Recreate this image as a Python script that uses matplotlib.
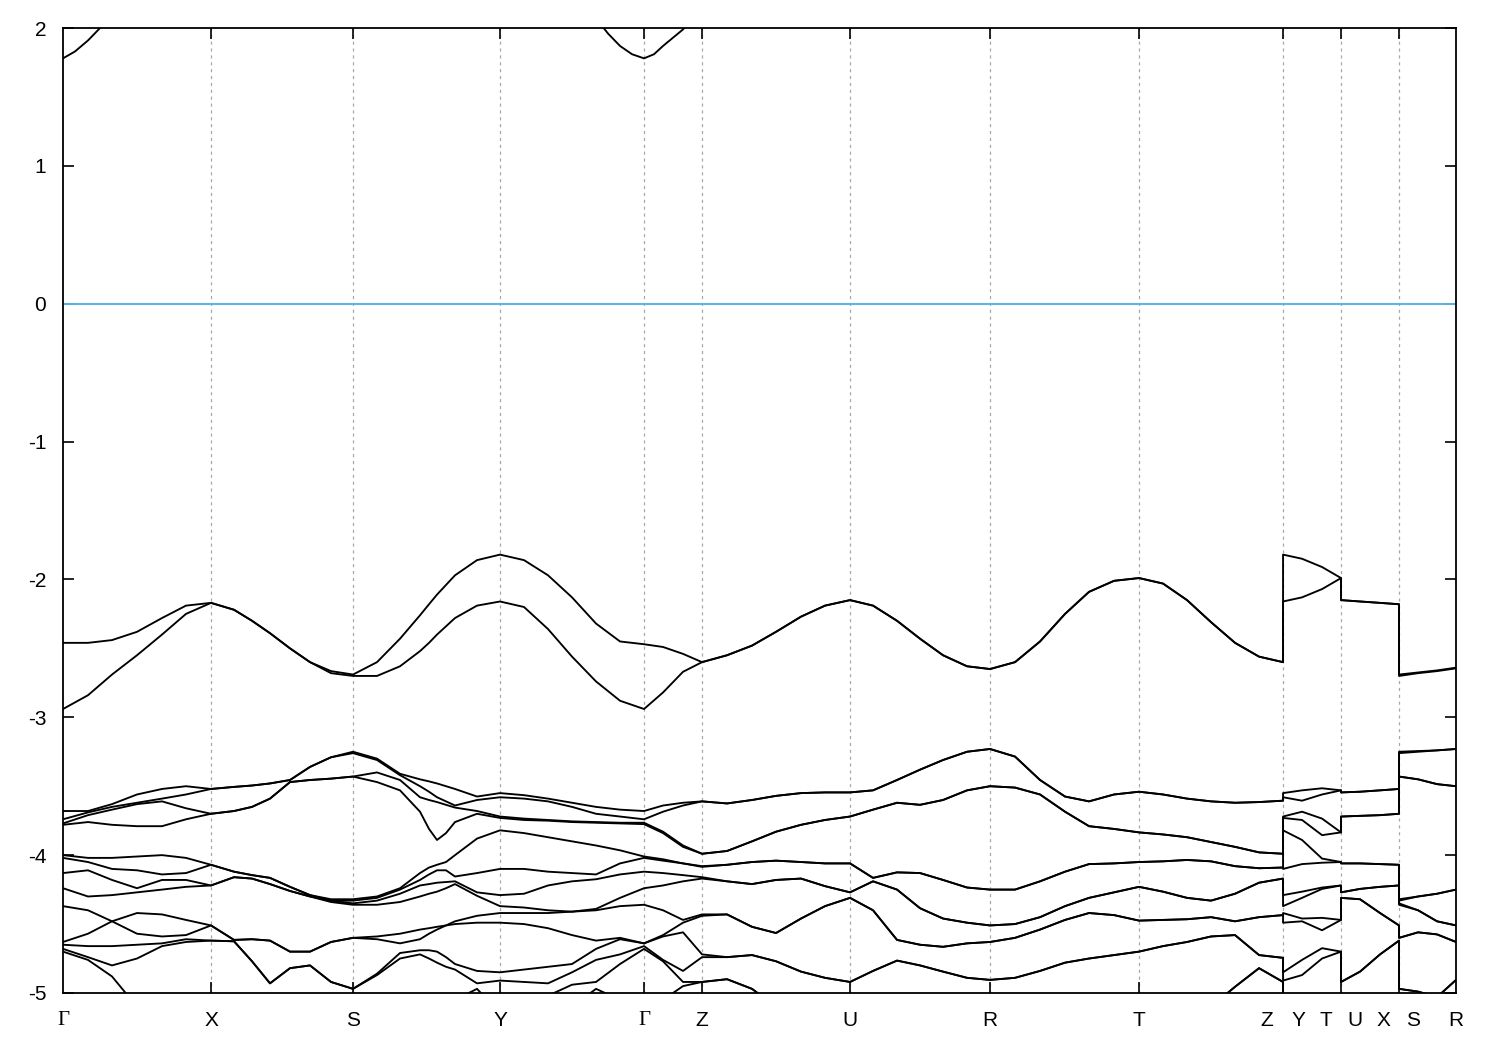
import numpy as np
import matplotlib
matplotlib.use("Agg")
import matplotlib.pyplot as plt

# k-path distance (arbitrary units) of the sample points, per segment
# rows: energies (eV) of the 16 valence bands, sorted from the top
k_gx = [0, 25, 49, 74, 99, 123, 148]
e_gx = [
    [-2.46, -2.94, -3.68, -3.74, -3.77, -3.78, -4.00, -4.02, -4.13, -4.24, -4.37, -4.63, -4.65, -4.68, -4.70, -5.3],
    [-2.46, -2.84, -3.68, -3.69, -3.71, -3.76, -4.02, -4.05, -4.11, -4.30, -4.40, -4.57, -4.66, -4.74, -4.76, -5.3],
    [-2.44, -2.69, -3.63, -3.65, -3.67, -3.78, -4.02, -4.10, -4.18, -4.29, -4.48, -4.48, -4.66, -4.80, -4.88, -5.3],
    [-2.38, -2.55, -3.56, -3.62, -3.63, -3.79, -4.01, -4.11, -4.24, -4.27, -4.42, -4.57, -4.65, -4.75, -5.1, -5.3],
    [-2.28, -2.40, -3.52, -3.59, -3.61, -3.79, -4.00, -4.14, -4.18, -4.25, -4.43, -4.59, -4.64, -4.66, -5.3, -5.3],
    [-2.19, -2.25, -3.50, -3.56, -3.66, -3.74, -4.02, -4.13, -4.18, -4.23, -4.47, -4.58, -4.61, -4.63, -5.3, -5.3],
    [-2.17, -2.17, -3.52, -3.52, -3.70, -3.70, -4.07, -4.07, -4.22, -4.22, -4.51, -4.51, -4.62, -4.62, -5.3, -5.3],
]

k_xs = [148, 171, 189, 207, 227, 247, 268, 290]
e_xs = [
    [-2.17, -2.17, -3.52, -3.52, -3.70, -3.70, -4.07, -4.07, -4.22, -4.22, -4.51, -4.51, -4.62, -4.62, -5.3, -5.3],
    [-2.22, -2.22, -3.505, -3.505, -3.68, -3.68, -4.12, -4.12, -4.16, -4.16, -4.615, -4.615, -4.625, -4.625, -5.3, -5.3],
    [-2.30, -2.30, -3.495, -3.495, -3.65, -3.65, -4.145, -4.145, -4.17, -4.17, -4.61, -4.61, -4.77, -4.77, -5.3, -5.3],
    [-2.39, -2.39, -3.48, -3.48, -3.59, -3.59, -4.165, -4.165, -4.21, -4.21, -4.62, -4.62, -4.93, -4.93, -5.3, -5.3],
    [-2.50, -2.50, -3.455, -3.455, -3.47, -3.47, -4.23, -4.23, -4.26, -4.26, -4.70, -4.70, -4.82, -4.82, -5.3, -5.3],
    [-2.60, -2.60, -3.36, -3.36, -3.455, -3.455, -4.29, -4.29, -4.30, -4.30, -4.70, -4.70, -4.80, -4.80, -5.3, -5.3],
    [-2.665, -2.68, -3.29, -3.29, -3.445, -3.445, -4.32, -4.33, -4.33, -4.34, -4.63, -4.63, -4.92, -4.92, -5.3, -5.3],
    [-2.69, -2.70, -3.25, -3.26, -3.43, -3.43, -4.32, -4.33, -4.35, -4.36, -4.60, -4.60, -4.97, -4.97, -5.3, -5.3],
]

k_sy = [290, 314, 337, 357, 366, 374, 383, 392, 414, 437]
e_sy = [
    [-2.69, -2.70, -3.25, -3.26, -3.43, -3.43, -4.32, -4.33, -4.35, -4.36, -4.60, -4.60, -4.97, -4.97, -5.3, -5.3],
    [-2.60, -2.70, -3.30, -3.31, -3.40, -3.47, -4.30, -4.31, -4.33, -4.36, -4.59, -4.61, -4.86, -4.87, -5.3, -5.3],
    [-2.43, -2.63, -3.41, -3.42, -3.455, -3.53, -4.24, -4.25, -4.28, -4.34, -4.57, -4.64, -4.71, -4.75, -5.3, -5.3],
    [-2.26, -2.52, -3.45, -3.50, -3.58, -3.685, -4.13, -4.18, -4.22, -4.30, -4.54, -4.61, -4.69, -4.72, -5.3, -5.3],
    [-2.18, -2.46, -3.465, -3.54, -3.60, -3.81, -4.09, -4.14, -4.21, -4.28, -4.53, -4.57, -4.69, -4.75, -5.3, -5.3],
    [-2.11, -2.40, -3.48, -3.58, -3.615, -3.89, -4.07, -4.11, -4.20, -4.265, -4.52, -4.54, -4.70, -4.78, -5.2, -5.3],
    [-2.04, -2.34, -3.50, -3.61, -3.635, -3.84, -4.05, -4.11, -4.195, -4.24, -4.51, -4.51, -4.74, -4.81, -5.1, -5.3],
    [-1.97, -2.28, -3.52, -3.64, -3.655, -3.76, -4.00, -4.155, -4.19, -4.21, -4.48, -4.50, -4.79, -4.83, -5.05, -5.3],
    [-1.86, -2.19, -3.575, -3.60, -3.68, -3.70, -3.88, -4.13, -4.27, -4.295, -4.44, -4.49, -4.84, -4.93, -4.97, -5.3],
    [-1.82, -2.16, -3.55, -3.58, -3.72, -3.73, -3.82, -4.10, -4.29, -4.37, -4.42, -4.49, -4.85, -4.91, -5.15, -5.3],
]

k_yg = [437, 461, 485, 509, 533, 557, 581]
e_yg = [
    [-1.82, -2.16, -3.55, -3.58, -3.72, -3.73, -3.82, -4.10, -4.29, -4.37, -4.42, -4.49, -4.85, -4.91, -5.15, -5.3],
    [-1.86, -2.20, -3.565, -3.59, -3.735, -3.745, -3.84, -4.10, -4.28, -4.38, -4.42, -4.50, -4.83, -4.92, -5.2, -5.3],
    [-1.97, -2.36, -3.59, -3.61, -3.745, -3.75, -3.87, -4.12, -4.22, -4.40, -4.42, -4.53, -4.81, -4.93, -5.02, -5.3],
    [-2.13, -2.56, -3.62, -3.65, -3.755, -3.76, -3.90, -4.13, -4.19, -4.41, -4.41, -4.58, -4.79, -4.85, -4.94, -5.1],
    [-2.32, -2.74, -3.65, -3.70, -3.76, -3.765, -3.93, -4.14, -4.175, -4.39, -4.40, -4.62, -4.68, -4.76, -4.92, -4.97],
    [-2.45, -2.88, -3.67, -3.72, -3.765, -3.77, -3.965, -4.06, -4.14, -4.31, -4.37, -4.60, -4.61, -4.72, -4.79, -5.05],
    [-2.47, -2.94, -3.68, -3.74, -3.765, -3.775, -4.01, -4.02, -4.12, -4.24, -4.36, -4.64, -4.64, -4.66, -4.68, -5.2],
]

k_gz = [581, 600, 620, 639]
e_gz = [
    [-2.47, -2.94, -3.68, -3.74, -3.765, -3.775, -4.01, -4.02, -4.12, -4.24, -4.36, -4.64, -4.64, -4.66, -4.68, -5.2],
    [-2.49, -2.82, -3.64, -3.685, -3.83, -3.84, -4.03, -4.04, -4.13, -4.22, -4.40, -4.58, -4.59, -4.76, -4.77, -5.05],
    [-2.54, -2.67, -3.62, -3.64, -3.93, -3.94, -4.06, -4.06, -4.145, -4.19, -4.47, -4.49, -4.56, -4.84, -4.92, -4.95],
    [-2.60, -2.60, -3.61, -3.61, -3.99, -3.99, -4.08, -4.085, -4.16, -4.17, -4.43, -4.44, -4.72, -4.74, -4.92, -4.92],
]

k_zu = [639, 664, 689, 713, 738, 762, 787]
e_zu = [
    [-2.60, -2.60, -3.61, -3.61, -3.99, -3.99, -4.08, -4.085, -4.16, -4.17, -4.43, -4.44, -4.72, -4.74, -4.92, -4.92],
    [-2.55, -2.55, -3.625, -3.625, -3.97, -3.97, -4.07, -4.07, -4.19, -4.19, -4.43, -4.43, -4.74, -4.74, -4.90, -4.90],
    [-2.48, -2.48, -3.60, -3.60, -3.90, -3.90, -4.05, -4.05, -4.21, -4.21, -4.52, -4.52, -4.725, -4.725, -4.97, -4.97],
    [-2.38, -2.38, -3.57, -3.57, -3.83, -3.83, -4.04, -4.04, -4.18, -4.18, -4.565, -4.565, -4.77, -4.77, -5.1, -5.1],
    [-2.27, -2.27, -3.55, -3.55, -3.78, -3.78, -4.05, -4.05, -4.17, -4.17, -4.46, -4.46, -4.845, -4.845, -5.2, -5.2],
    [-2.19, -2.19, -3.545, -3.545, -3.745, -3.745, -4.06, -4.06, -4.225, -4.225, -4.37, -4.37, -4.89, -4.89, -5.3, -5.3],
    [-2.15, -2.15, -3.545, -3.545, -3.72, -3.72, -4.06, -4.06, -4.27, -4.27, -4.31, -4.31, -4.92, -4.92, -5.3, -5.3],
]

k_ur = [787, 810, 834, 857, 880, 904, 927]
e_ur = [
    [-2.15, -2.15, -3.545, -3.545, -3.72, -3.72, -4.06, -4.06, -4.27, -4.27, -4.31, -4.31, -4.92, -4.92, -5.3, -5.3],
    [-2.19, -2.19, -3.53, -3.53, -3.67, -3.67, -4.165, -4.165, -4.19, -4.19, -4.40, -4.40, -4.84, -4.84, -5.3, -5.3],
    [-2.30, -2.30, -3.455, -3.455, -3.62, -3.62, -4.125, -4.125, -4.25, -4.25, -4.615, -4.615, -4.765, -4.765, -5.3, -5.3],
    [-2.43, -2.43, -3.38, -3.38, -3.635, -3.635, -4.13, -4.13, -4.385, -4.385, -4.65, -4.65, -4.80, -4.80, -5.3, -5.3],
    [-2.55, -2.55, -3.31, -3.31, -3.60, -3.60, -4.18, -4.18, -4.46, -4.46, -4.665, -4.665, -4.845, -4.845, -5.3, -5.3],
    [-2.63, -2.63, -3.25, -3.25, -3.53, -3.53, -4.235, -4.235, -4.49, -4.49, -4.64, -4.64, -4.89, -4.89, -5.3, -5.3],
    [-2.65, -2.65, -3.23, -3.23, -3.50, -3.50, -4.25, -4.25, -4.51, -4.51, -4.63, -4.63, -4.905, -4.905, -5.3, -5.3],
]

k_rt = [927, 952, 977, 1002, 1026, 1051, 1076]
e_rt = [
    [-2.65, -2.65, -3.23, -3.23, -3.50, -3.50, -4.25, -4.25, -4.51, -4.51, -4.63, -4.63, -4.905, -4.905, -5.3, -5.3],
    [-2.60, -2.60, -3.285, -3.285, -3.51, -3.51, -4.25, -4.25, -4.50, -4.50, -4.60, -4.60, -4.89, -4.89, -5.3, -5.3],
    [-2.45, -2.45, -3.455, -3.455, -3.56, -3.56, -4.19, -4.19, -4.45, -4.45, -4.54, -4.54, -4.84, -4.84, -5.3, -5.3],
    [-2.25, -2.25, -3.575, -3.575, -3.685, -3.685, -4.12, -4.12, -4.37, -4.37, -4.47, -4.47, -4.78, -4.78, -5.3, -5.3],
    [-2.09, -2.09, -3.61, -3.61, -3.79, -3.79, -4.065, -4.065, -4.31, -4.31, -4.42, -4.42, -4.75, -4.75, -5.3, -5.3],
    [-2.01, -2.01, -3.56, -3.56, -3.81, -3.81, -4.06, -4.06, -4.27, -4.27, -4.435, -4.435, -4.725, -4.725, -5.3, -5.3],
    [-1.99, -1.99, -3.54, -3.54, -3.835, -3.835, -4.05, -4.05, -4.23, -4.23, -4.475, -4.475, -4.70, -4.70, -5.3, -5.3],
]

k_tz = [1076, 1100, 1124, 1148, 1172, 1196, 1220]
e_tz = [
    [-1.99, -1.99, -3.54, -3.54, -3.835, -3.835, -4.05, -4.05, -4.23, -4.23, -4.475, -4.475, -4.70, -4.70, -5.3, -5.3],
    [-2.03, -2.03, -3.56, -3.56, -3.85, -3.85, -4.045, -4.045, -4.265, -4.265, -4.47, -4.47, -4.66, -4.66, -5.3, -5.3],
    [-2.15, -2.15, -3.59, -3.59, -3.87, -3.87, -4.035, -4.035, -4.31, -4.31, -4.465, -4.465, -4.63, -4.63, -5.3, -5.3],
    [-2.31, -2.31, -3.61, -3.61, -3.905, -3.905, -4.045, -4.045, -4.33, -4.33, -4.45, -4.45, -4.59, -4.59, -5.1, -5.1],
    [-2.46, -2.46, -3.62, -3.62, -3.94, -3.94, -4.08, -4.08, -4.28, -4.28, -4.48, -4.48, -4.58, -4.58, -4.955, -4.955],
    [-2.56, -2.56, -3.615, -3.615, -3.98, -3.98, -4.095, -4.095, -4.20, -4.20, -4.45, -4.45, -4.725, -4.725, -4.82, -4.82],
    [-2.60, -2.60, -3.605, -3.605, -3.99, -3.99, -4.09, -4.09, -4.17, -4.17, -4.435, -4.435, -4.745, -4.745, -4.92, -4.92],
]

k_yt = [1220, 1239, 1259, 1278]
e_yt = [
    [-1.82, -2.16, -3.55, -3.58, -3.72, -3.73, -3.82, -4.10, -4.29, -4.37, -4.42, -4.49, -4.85, -4.91, -5.15, -5.3],
    [-1.85, -2.13, -3.53, -3.605, -3.685, -3.745, -3.89, -4.065, -4.265, -4.31, -4.46, -4.48, -4.76, -4.87, -5.2, -5.3],
    [-1.91, -2.07, -3.515, -3.56, -3.735, -3.855, -4.025, -4.055, -4.235, -4.245, -4.455, -4.545, -4.675, -4.75, -5.25, -5.3],
    [-1.99, -1.99, -3.53, -3.53, -3.835, -3.835, -4.05, -4.05, -4.22, -4.22, -4.47, -4.47, -4.70, -4.70, -5.3, -5.3],
]

k_ux = [1278, 1297, 1317, 1336]
e_ux = [
    [-2.15, -2.15, -3.545, -3.545, -3.72, -3.72, -4.06, -4.06, -4.27, -4.27, -4.31, -4.31, -4.92, -4.92, -5.3, -5.3],
    [-2.16, -2.16, -3.54, -3.54, -3.715, -3.715, -4.06, -4.06, -4.245, -4.245, -4.32, -4.32, -4.845, -4.845, -5.3, -5.3],
    [-2.17, -2.17, -3.53, -3.53, -3.71, -3.71, -4.065, -4.065, -4.23, -4.23, -4.42, -4.42, -4.72, -4.72, -5.3, -5.3],
    [-2.18, -2.18, -3.52, -3.52, -3.70, -3.70, -4.07, -4.07, -4.22, -4.22, -4.51, -4.51, -4.62, -4.62, -5.3, -5.3],
]

k_sr = [1336, 1355, 1374, 1393]
e_sr = [
    [-2.69, -2.70, -3.25, -3.26, -3.43, -3.43, -4.32, -4.33, -4.35, -4.36, -4.60, -4.60, -4.97, -4.97, -5.3, -5.3],
    [-2.675, -2.68, -3.245, -3.25, -3.45, -3.45, -4.30, -4.30, -4.40, -4.40, -4.56, -4.56, -4.99, -4.99, -5.3, -5.3],
    [-2.66, -2.665, -3.24, -3.24, -3.485, -3.485, -4.28, -4.28, -4.48, -4.48, -4.575, -4.575, -5.03, -5.03, -5.3, -5.3],
    [-2.64, -2.645, -3.23, -3.23, -3.50, -3.50, -4.25, -4.25, -4.51, -4.51, -4.63, -4.63, -4.905, -4.905, -5.3, -5.3],
]

# conduction band, only where it dips into the window
cb1_k = [0, 12, 25, 37, 49]
cb1_e = [1.78, 1.83, 1.91, 2.0, 2.15]
cb2_k = [533, 545, 557, 569, 581, 591, 600, 610, 620, 639]
cb2_e = [2.07, 1.96, 1.87, 1.81, 1.78, 1.81, 1.87, 1.93, 1.99, 2.15]

# high-symmetry points
boundaries = [148, 290, 437, 581, 639, 787, 927, 1076, 1220, 1278, 1336]
label_k = [0, 148, 290, 437, 581, 639, 787, 927, 1076, 1204, 1235, 1263, 1292, 1320, 1350, 1393]
label_txt = ["Γ", "X", "S", "Y", "Γ", "Z", "U", "R", "T", "Z", "Y", "T", "U", "X", "S", "R"]

k_all = np.concatenate([k_gx, k_xs, k_sy, k_yg, k_gz, k_zu, k_ur, k_rt, k_tz, k_yt, k_ux, k_sr])
e_all = np.vstack([e_gx, e_xs, e_sy, e_yg, e_gz, e_zu, e_ur, e_rt, e_tz, e_yt, e_ux, e_sr])

fig = plt.figure(figsize=(15, 10.5), dpi=100)
ax = fig.add_axes([0.042, 0.0543, 0.9287, 0.919])

for b in boundaries:
    ax.axvline(b, color="#a8a8a8", lw=0.9, ls=(0, (2.5, 3)), zorder=1)

ax.axhline(0, color="#56b4e9", lw=1.4, zorder=2)

for ib in range(e_all.shape[1]):
    ax.plot(k_all, e_all[:, ib], color="black", lw=1.35, zorder=3)
ax.plot(cb1_k, cb1_e, color="black", lw=1.35, zorder=3)
ax.plot(cb2_k, cb2_e, color="black", lw=1.35, zorder=3)

ax.set_xlim(0, 1393)
ax.set_ylim(-5, 2)
ax.set_yticks(range(-5, 3))
ax.set_yticklabels([str(v) for v in range(-5, 3)], family="Liberation Sans", fontsize=15)
ax.set_xticks(boundaries)
ax.set_xticklabels([])
ax.tick_params(direction="in", length=8, width=1.2, top=True, right=True, pad=12)

for kk, txt in zip(label_k, label_txt):
    fam = "Liberation Serif" if txt == "Γ" else "Liberation Sans"
    ax.text(kk, -0.028, txt, transform=ax.get_xaxis_transform(),
            ha="center", va="center", fontsize=15, family=fam)

for sp in ax.spines.values():
    sp.set_linewidth(1.3)

fig.savefig("out.png", dpi=100)
